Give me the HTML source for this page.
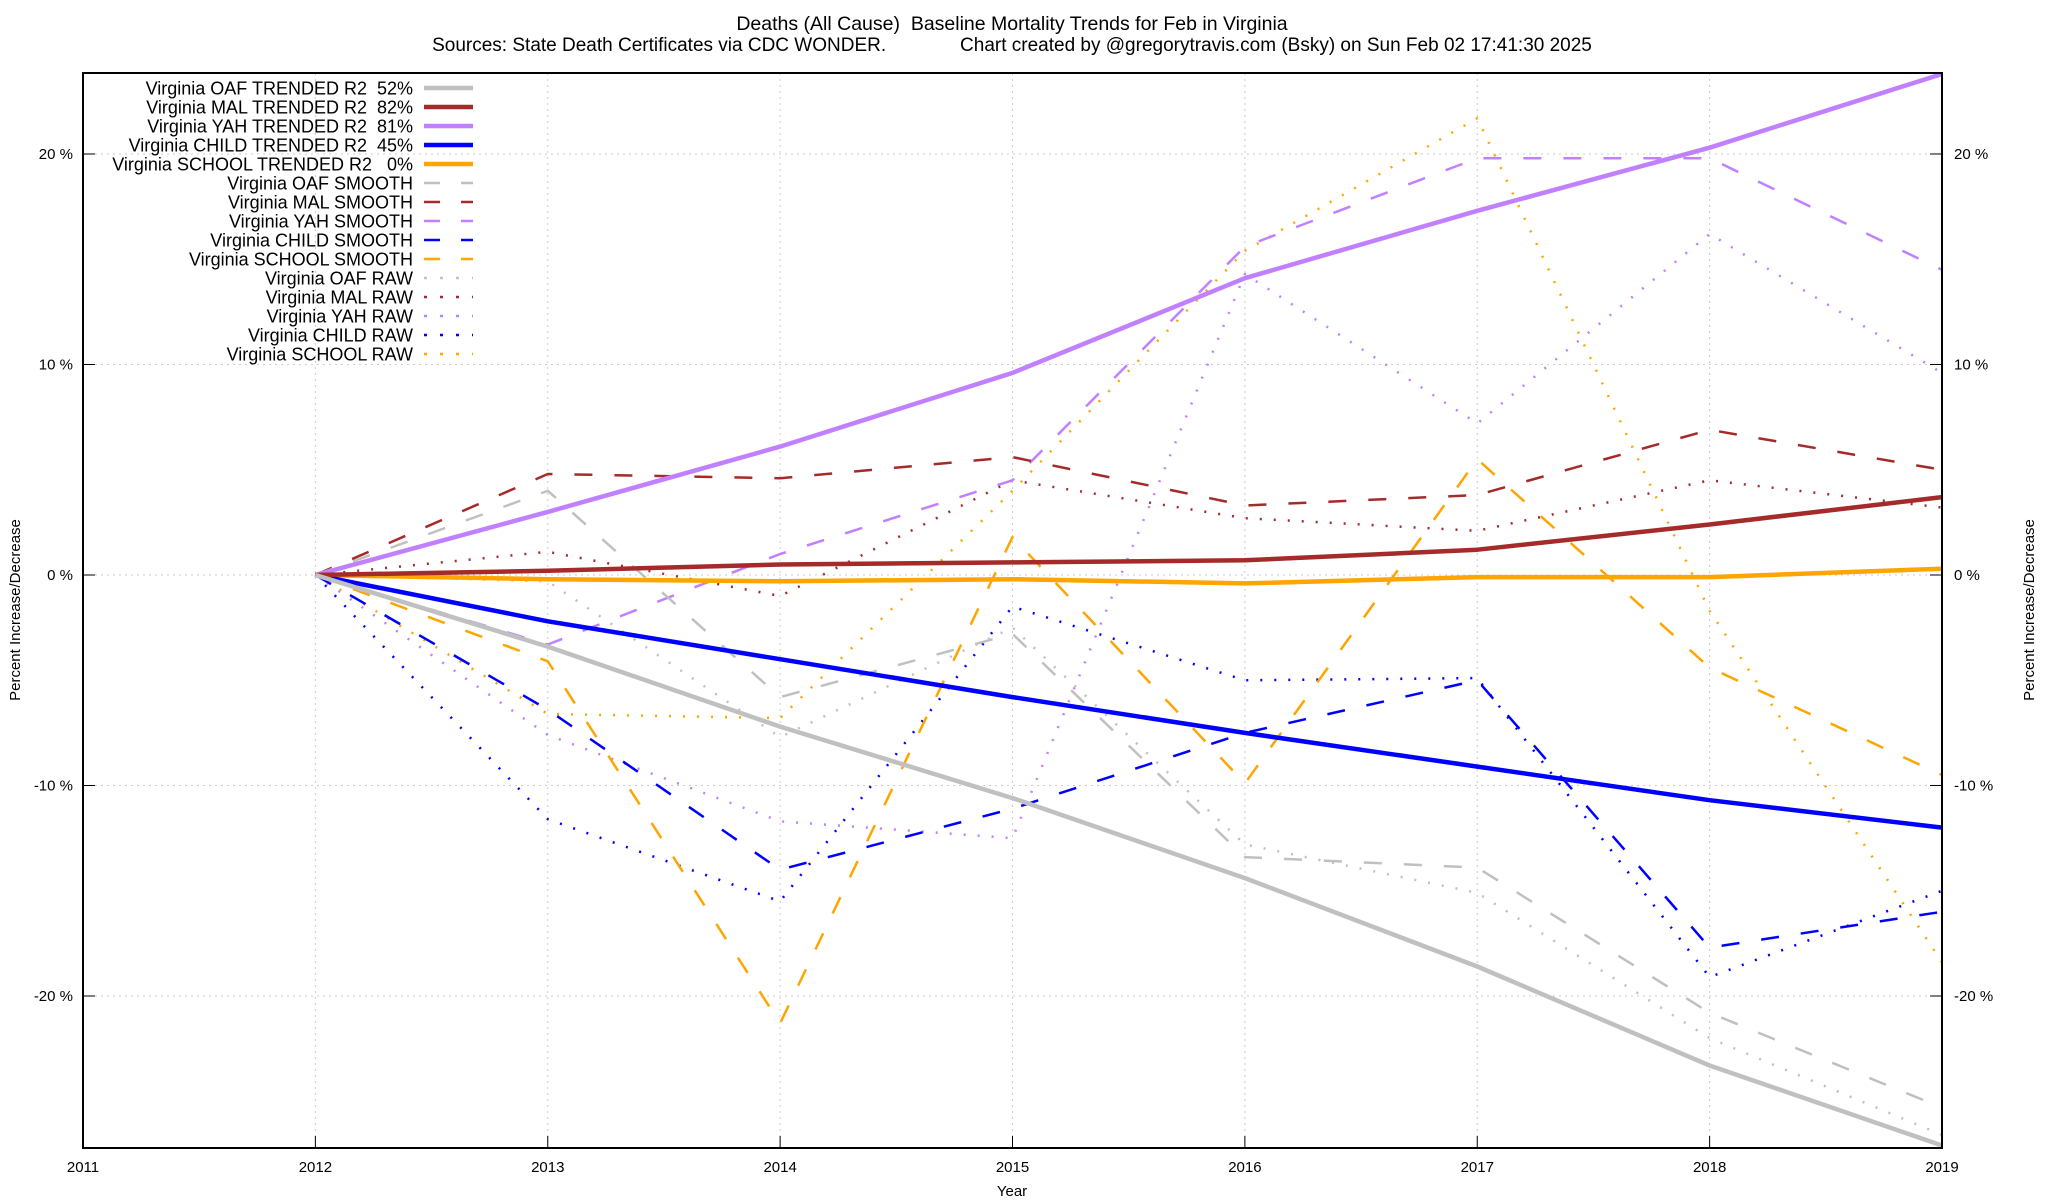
<!DOCTYPE html>
<html><head><meta charset="utf-8"><style>
html,body{margin:0;padding:0;background:#fff;}
svg{display:block;font-family:"Liberation Sans",Arial,sans-serif;}
text{white-space:pre;}
</style></head><body>
<svg id="chart" width="2048" height="1200" viewBox="0 0 2048 1200">
<text x="1012" y="30" font-size="19.5" text-anchor="middle">Deaths (All Cause)  Baseline Mortality Trends for Feb in Virginia</text>
<text x="1012" y="51" font-size="19" text-anchor="middle">Sources: State Death Certificates via CDC WONDER.              Chart created by @gregorytravis.com (Bsky) on Sun Feb 02 17:41:30 2025</text>
<g id="grid"></g>
<g id="series"></g>
<rect x="83" y="73" width="1859" height="1075" fill="none" stroke="#000" stroke-width="2"/>
<g id="axes"></g>
<g id="legend"></g>
<text x="1012" y="1196" font-size="15" text-anchor="middle">Year</text>
<text transform="translate(20,610) rotate(-90)" font-size="15" text-anchor="middle">Percent Increase/Decrease</text>
<text transform="translate(2034,610) rotate(-90)" font-size="15" text-anchor="middle">Percent Increase/Decrease</text>
</svg>
<script>
const years = [2012,2013,2014,2015,2016,2017,2018,2019];
const xTicks = [2011,2012,2013,2014,2015,2016,2017,2018,2019];
const yTicks = [-20,-10,0,10,20];
const oafTrend = [0,-3.4,-7.2,-10.6,-14.4,-18.6,-23.3,-27.1];
const malTrend = [0,0.2,0.5,0.6,0.7,1.2,2.4,3.7];
const yahTrend = [0,3.0,6.1,9.6,14.1,17.3,20.3,23.8];
const childTrend = [0,-2.2,-4.0,-5.8,-7.5,-9.1,-10.7,-12.0];
const schoolTrend = [0,-0.2,-0.3,-0.2,-0.4,-0.1,-0.1,0.3];
const oafSmooth = [0,4.0,-5.8,-2.8,-13.4,-13.9,-20.8,-25.3];
const malSmooth = [0,4.8,4.6,5.6,3.3,3.8,6.9,5.0];
const yahSmooth = [0,-3.3,1.0,4.5,15.6,19.8,19.8,14.5];
const childSmooth = [0,-6.4,-14.0,-11.1,-7.5,-5.0,-17.7,-16.0];
const schoolSmooth = [0,-4.1,-21.3,1.8,-9.9,5.5,-4.4,-9.5];
const oafRaw = [0,-0.3,-7.7,-2.5,-12.8,-15.1,-22.0,-26.6];
const malRaw = [0,1.1,-1.0,4.5,2.7,2.1,4.5,3.2];
const yahRaw = [0,-7.6,-11.7,-12.5,14.3,7.2,16.2,9.6];
const childRaw = [0,-11.6,-15.5,-1.5,-5.0,-4.9,-19.1,-15.0];
const schoolRaw = [0,-6.6,-6.8,4.0,15.4,21.7,-1.7,-18.4];

const NS="http://www.w3.org/2000/svg";
const X0=83,X1=1942,Y0=73,Y1=1148;
function xs(v){return X0+(v-2011)/(2019-2011)*(X1-X0);}
function ys(v){return 575-v*21.05;}
function mk(tag,attrs,parent){const e=document.createElementNS(NS,tag);for(const k in attrs)e.setAttribute(k,attrs[k]);parent.appendChild(e);return e;}
const grid=document.getElementById('grid'),axes=document.getElementById('axes'),ser=document.getElementById('series'),leg=document.getElementById('legend');
xTicks.forEach(t=>{
  const x=xs(t);
  if(t>2011&&t<2019){const g=mk('line',{x1:x,x2:x,y1:Y0,y2:Y1,stroke:'#ccc','stroke-width':1,'stroke-dasharray':'2 4'},grid);
  
  }
  const tk=mk('line',{x1:x,x2:x,y1:Y1,y2:Y1-12,stroke:'#000','stroke-width':1},axes);
  
  
  const l=mk('text',{x:x,y:Y1+24,'font-size':15,'text-anchor':'middle'},axes);l.textContent=t;
  
  
});
yTicks.forEach(t=>{
  const y=ys(t);
  const g=mk('line',{x1:X0,x2:X1,y1:y,y2:y,stroke:'#ccc','stroke-width':1,'stroke-dasharray':'2 4'},grid);
  
  
  const a=mk('line',{x1:X0,x2:X0+12,y1:y,y2:y,stroke:'#000'},axes);
  
  
  const b=mk('line',{x1:X1-12,x2:X1,y1:y,y2:y,stroke:'#000'},axes);
  
  
  const l=mk('text',{x:X0-10,y:y+5,'font-size':15,'text-anchor':'end'},axes);l.textContent=t+' %';
  
  
  const r=mk('text',{x:X1+12,y:y+5,'font-size':15},axes);r.textContent=t+' %';
  
  
});
const C={oaf:'#c0c0c0',mal:'#a52a2a',yah:'#c080ff',child:'#0000ff',school:'#ffa500'};
const styles={trend:{w:4.5,d:''},smooth:{w:2.5,d:'18 22'},raw:{w:2.5,d:'2 12'}};
const list=[
 ['Virginia OAF TRENDED R2  52%',oafTrend,'oaf','trend'],
 ['Virginia MAL TRENDED R2  82%',malTrend,'mal','trend'],
 ['Virginia YAH TRENDED R2  81%',yahTrend,'yah','trend'],
 ['Virginia CHILD TRENDED R2  45%',childTrend,'child','trend'],
 ['Virginia SCHOOL TRENDED R2   0%',schoolTrend,'school','trend'],
 ['Virginia OAF SMOOTH',oafSmooth,'oaf','smooth'],
 ['Virginia MAL SMOOTH',malSmooth,'mal','smooth'],
 ['Virginia YAH SMOOTH',yahSmooth,'yah','smooth'],
 ['Virginia CHILD SMOOTH',childSmooth,'child','smooth'],
 ['Virginia SCHOOL SMOOTH',schoolSmooth,'school','smooth'],
 ['Virginia OAF RAW',oafRaw,'oaf','raw'],
 ['Virginia MAL RAW',malRaw,'mal','raw'],
 ['Virginia YAH RAW',yahRaw,'yah','raw'],
 ['Virginia CHILD RAW',childRaw,'child','raw'],
 ['Virginia SCHOOL RAW',schoolRaw,'school','raw']];
list.slice().reverse().forEach(([name,vals,c,s])=>{
  const st=styles[s];
  const pts=vals.map((v,i)=>xs(years[i]).toFixed(1)+','+ys(v).toFixed(1)).join(' ');
  const p=mk('polyline',{points:pts,fill:'none',stroke:C[c],'stroke-width':st.w,'stroke-linejoin':'round'},ser);
  if(st.d)p.setAttribute('stroke-dasharray',st.d);
  
  
});
list.forEach(([name,vals,c,s],i)=>{
  const y=88+i*19;const st=styles[s];
  const t=mk('text',{x:413,y:y+6.5,'font-size':18,'text-anchor':'end'},leg);t.textContent=name;
  
  
  const l=mk('line',{x1:424,x2:473,y1:y,y2:y,stroke:C[c],'stroke-width':st.w},leg);
  if(st.d)l.setAttribute('stroke-dasharray',s==='smooth'?'16 21':'3 13');
  
  
});
</script>
</body></html>
